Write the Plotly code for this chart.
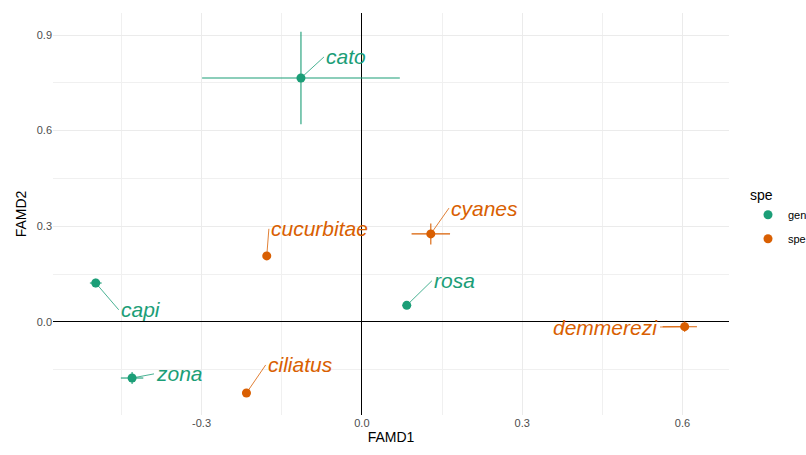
import plotly.graph_objects as go

species = ["cato", "capi", "zona", "rosa", "cucurbitae", "ciliatus", "cyanes", "demmerezi"]
group = ["gen", "gen", "gen", "gen", "spe", "spe", "spe", "spe"]
famd1 = [-0.114, -0.498, -0.430, 0.084, -0.178, -0.216, 0.129, 0.604]
famd2 = [0.765, 0.122, -0.176, 0.052, 0.207, -0.223, 0.276, -0.015]
err1_plus = [0.185, 0.011, 0.021, 0.008, 0.006, 0.008, 0.036, 0.023]
err1_minus = [0.185, 0.011, 0.021, 0.008, 0.006, 0.008, 0.036, 0.041]
err2 = [0.145, 0.013, 0.019, 0.010, 0.012, 0.012, 0.033, 0.016]
label_x = [-0.071, -0.455, -0.389, 0.131, -0.174, -0.180, 0.163, 0.558]
label_y = [0.831, 0.038, -0.163, 0.129, 0.292, -0.135, 0.357, -0.016]
label_side = ["left", "left", "left", "left", "left", "left", "left", "right"]

colors = {"gen": "#1B9E77", "spe": "#D95F02"}
groups = ["gen", "spe"]

fig = go.Figure()

# label segments
for g in groups:
    xs, ys = [], []
    for i, s in enumerate(species):
        if group[i] == g:
            xs += [famd1[i], label_x[i], None]
            ys += [famd2[i], label_y[i], None]
    fig.add_trace(go.Scatter(x=xs, y=ys, mode="lines",
                             line=dict(color=colors[g], width=0.8),
                             hoverinfo="skip", showlegend=False))

for g in groups:
    idx = [i for i in range(len(species)) if group[i] == g]
    fig.add_trace(go.Scatter(
        x=[famd1[i] for i in idx], y=[famd2[i] for i in idx],
        mode="markers", name=g, legendgroup=g,
        marker=dict(color=colors[g], size=9),
        error_x=dict(type="data", symmetric=False,
                     array=[err1_plus[i] for i in idx],
                     arrayminus=[err1_minus[i] for i in idx],
                     color=colors[g], thickness=1.1, width=0),
        error_y=dict(type="data", array=[err2[i] for i in idx],
                     color=colors[g], thickness=1.1, width=0),
        text=[species[i] for i in idx],
    ))

for i, s in enumerate(species):
    fig.add_annotation(x=label_x[i], y=label_y[i], text="<i>" + s + "</i>",
                       showarrow=False, xanchor=label_side[i], yanchor="middle",
                       font=dict(family="Liberation Sans, Arial, sans-serif",
                                 size=21, color=colors[group[i]]))

axis_common = dict(
    showgrid=True, gridcolor="#EBEBEB", gridwidth=1,
    zeroline=True, zerolinecolor="black", zerolinewidth=1,
    showline=False, ticks="", automargin=False,
    tickfont=dict(family="Liberation Sans, Arial, sans-serif", size=11, color="#4D4D4D"),
    title_font=dict(family="Liberation Sans, Arial, sans-serif", size=14, color="black"),
    minor=dict(showgrid=True, gridcolor="#F0F0F0", gridwidth=0.8),
)

fig.update_xaxes(range=[-0.578, 0.687], tickvals=[-0.3, 0.0, 0.3, 0.6],
                 ticktext=["-0.3", "0.0", "0.3", "0.6"], title_text="FAMD1",
                 title_standoff=4, minor_tickvals=[-0.45, -0.15, 0.15, 0.45],
                 **axis_common)
fig.update_yaxes(range=[-0.292, 0.969], tickvals=[0.0, 0.3, 0.6, 0.9],
                 ticktext=["0.0", "0.3", "0.6", "0.9"], title_text="FAMD2",
                 title_standoff=6, minor_tickvals=[-0.15, 0.15, 0.45, 0.75],
                 **axis_common)

fig.update_layout(
    width=806, height=455,
    margin=dict(l=53, r=77, t=13, b=40, autoexpand=False),
    plot_bgcolor="white", paper_bgcolor="white",
    font=dict(family="Liberation Sans, Arial, sans-serif"),
    legend=dict(title=dict(text="spe", font=dict(size=14, color="black")),
                xref="container", yref="container",
                x=748 / 806, y=1 - 182 / 455, xanchor="left", yanchor="top",
                font=dict(size=11, color="black"), tracegroupgap=5,
                itemwidth=30),
)

fig.write_html("out.html", config={"displayModeBar": False},
               post_script="document.body.style.margin='0';document.body.style.padding='0';")
